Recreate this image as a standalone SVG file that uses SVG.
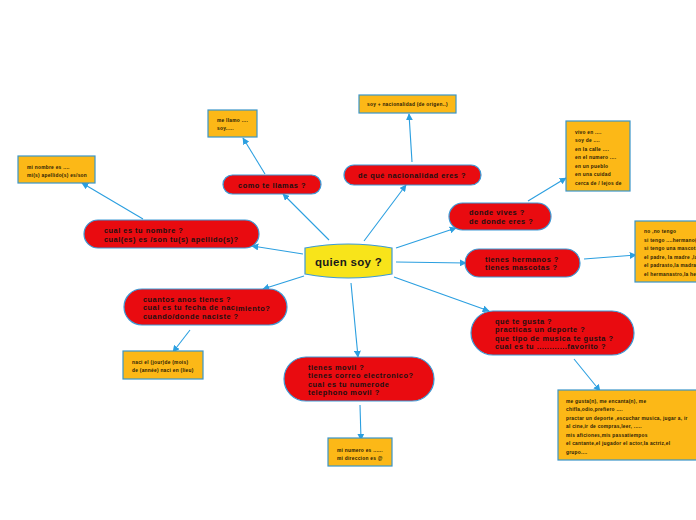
<svg xmlns="http://www.w3.org/2000/svg" width="696" height="520" viewBox="0 0 696 520">
<style>
.red{fill:#e90b10;stroke:#3c9ad6;stroke-width:1.2}
.note{fill:#fcb817;stroke:#3a95c9;stroke-width:1.2}
.t{font-family:"Liberation Sans",Arial,sans-serif;font-weight:bold;font-size:7.4px;letter-spacing:0.5px;fill:#1c1010}
.n{font-family:"Liberation Sans",Arial,sans-serif;font-weight:bold;font-size:4.8px;letter-spacing:0.28px;fill:#2a1a05}
.c{fill:none;stroke:#2b9fe0;stroke-width:1.1;marker-end:url(#ah)}
</style>
<defs>
<marker id="ah" viewBox="0 0 10 10" refX="9" refY="5" markerWidth="7" markerHeight="7" markerUnits="userSpaceOnUse" orient="auto">
<path d="M0,0 L10,5 L0,10 Z" fill="#2b9fe0"/>
</marker>
</defs>
<rect width="696" height="520" fill="#ffffff"/>
<g id="connectors">
<line class="c" x1="329" y1="240" x2="283" y2="194"/>
<line class="c" x1="265" y1="174" x2="243" y2="138"/>
<line class="c" x1="364" y1="241" x2="406" y2="185"/>
<line class="c" x1="412" y1="162" x2="409" y2="114"/>
<line class="c" x1="396" y1="248" x2="456" y2="228"/>
<line class="c" x1="528" y1="201" x2="566" y2="178"/>
<line class="c" x1="396" y1="262" x2="466" y2="263"/>
<line class="c" x1="584" y1="259" x2="636" y2="255"/>
<line class="c" x1="394" y1="277" x2="489" y2="311"/>
<line class="c" x1="574" y1="359" x2="600" y2="391"/>
<line class="c" x1="351" y1="283" x2="358" y2="357"/>
<line class="c" x1="360" y1="405" x2="361" y2="440"/>
<line class="c" x1="304" y1="276" x2="263" y2="289"/>
<line class="c" x1="190" y1="330" x2="173" y2="352"/>
<line class="c" x1="303" y1="254" x2="252" y2="246"/>
<line class="c" x1="143" y1="219" x2="82" y2="183"/>
</g>
<g id="center">
<path d="M305,248 Q348,240 392,248 L392,274 Q348,282 305,274 Z" fill="#f8e41a" stroke="#3c9ad6" stroke-width="1.2"/>
<text x="348.5" y="266" text-anchor="middle" font-family="Liberation Sans,Arial,sans-serif" font-weight="bold" font-size="11.5px" letter-spacing="0.3px" fill="#1a1a1a">quien soy ?</text>
</g>
<g id="n-llamas">
<rect class="red" x="223" y="175" width="98" height="19" rx="9.5"/>
<text class="t" x="272" y="187.5" text-anchor="middle">como te llamas ?</text>
</g>
<g id="n-nacionalidad">
<rect class="red" x="344" y="165" width="137" height="20" rx="10"/>
<text class="t" x="412" y="178" text-anchor="middle">de qué nacionalidad eres ?</text>
</g>
<g id="n-donde">
<rect class="red" x="449" y="203" width="102" height="27" rx="13.5"/>
<text class="t" x="469" y="215">donde  vives ?</text>
<text class="t" x="469" y="224">de donde eres ?</text>
</g>
<g id="n-hermanos">
<rect class="red" x="465" y="249" width="115" height="28" rx="14"/>
<text class="t" x="485" y="262">tienes hermanos ?</text>
<text class="t" x="485" y="270">tienes mascotas ?</text>
</g>
<g id="n-gusta">
<rect class="red" x="471" y="311" width="163" height="44" rx="22"/>
<text class="t" x="495" y="324">qué te gusta ?</text>
<text class="t" x="495" y="332">practicas un deporte ?</text>
<text class="t" x="495" y="341">que tipo de musica te gusta ?</text>
<text class="t" x="495" y="349">cual es tu ............favorito ?</text>
</g>
<g id="n-movil">
<rect class="red" x="284" y="357" width="150" height="44" rx="22"/>
<text class="t" x="308" y="370">tienes movil ?</text>
<text class="t" x="308" y="378">tienes correo electronico?</text>
<text class="t" x="308" y="387">cual es tu numerode</text>
<text class="t" x="308" y="395"> telephono movil ?</text>
</g>
<g id="n-anos">
<rect class="red" x="124" y="289" width="163" height="36" rx="18"/>
<text class="t" x="143" y="302">cuantos anos tienes ?</text>
<text class="t" x="143" y="310">cual es tu fecha de nac<tspan dy="1">imiento?</tspan></text>
<text class="t" x="143" y="319">cuando/donde naciste ?</text>
</g>
<g id="n-nombre">
<rect class="red" x="84" y="220" width="175" height="28" rx="14"/>
<text class="t" x="104" y="233">cual es tu nombre ?</text>
<text class="t" x="104" y="242">cual(es) es /son tu(s) apellido(s)?</text>
</g>
<g id="note-nombre">
<rect class="note" x="18" y="156" width="77" height="27"/>
<text class="n" x="27" y="169">mi nombre es ....</text>
<text class="n" x="27" y="177">mi(s) apellido(s) es/son</text>
</g>
<g id="note-llamo">
<rect class="note" x="208" y="110" width="49" height="27"/>
<text class="n" x="217" y="122">me llamo ....</text>
<text class="n" x="217" y="130">soy.....</text>
</g>
<g id="note-nacionalidad">
<rect class="note" x="359" y="95" width="97" height="18"/>
<text class="n" x="367" y="106">soy + nacionalidad (de origen..)</text>
</g>
<g id="note-vivo">
<rect class="note" x="566" y="121" width="64" height="70"/>
<text class="n" x="575" y="134">vivo en ....</text>
<text class="n" x="575" y="142">soy de ....</text>
<text class="n" x="575" y="151">en la calle ....</text>
<text class="n" x="575" y="159">en el numero ....</text>
<text class="n" x="575" y="168">en un pueblo</text>
<text class="n" x="575" y="176">en una cuidad</text>
<text class="n" x="575" y="185">cerca de / lejos de</text>
</g>
<g id="note-hermanos">
<rect class="note" x="635" y="221" width="70" height="61"/>
<text class="n" x="644" y="233">no ,no tengo</text>
<text class="n" x="644" y="242">si tengo ....hermano(s)</text>
<text class="n" x="644" y="250">si tengo una mascota</text>
<text class="n" x="644" y="259">el padre, la madre ,la</text>
<text class="n" x="644" y="267">el padrasto,la madrastra</text>
<text class="n" x="644" y="276">el hermanastro,la hermanastra</text>
</g>
<g id="note-gusta">
<rect class="note" x="558" y="390" width="140" height="70"/>
<text class="n" x="566" y="403">me gusta(n), me encanta(n), me</text>
<text class="n" x="566" y="411">chifla,odio,prefiero ....</text>
<text class="n" x="566" y="420">practar un deporte ,escuchar musica, jugar a, ir</text>
<text class="n" x="566" y="428">al cine,ir de compras,leer, .....</text>
<text class="n" x="566" y="437">mis aficiones,mis passatiempos</text>
<text class="n" x="566" y="445">el cantante,el jugador el actor,la actriz,el</text>
<text class="n" x="566" y="454">grupo....</text>
</g>
<g id="note-movil">
<rect class="note" x="328" y="438" width="64" height="28"/>
<text class="n" x="337" y="452">mi numero es ......</text>
<text class="n" x="337" y="460">mi direccion es @</text>
</g>
<g id="note-naci">
<rect class="note" x="123" y="351" width="80" height="28"/>
<text class="n" x="132" y="364">naci el (jour)de (mois)</text>
<text class="n" x="132" y="372">de (année) naci en (lieu)</text>
</g>
</svg>
